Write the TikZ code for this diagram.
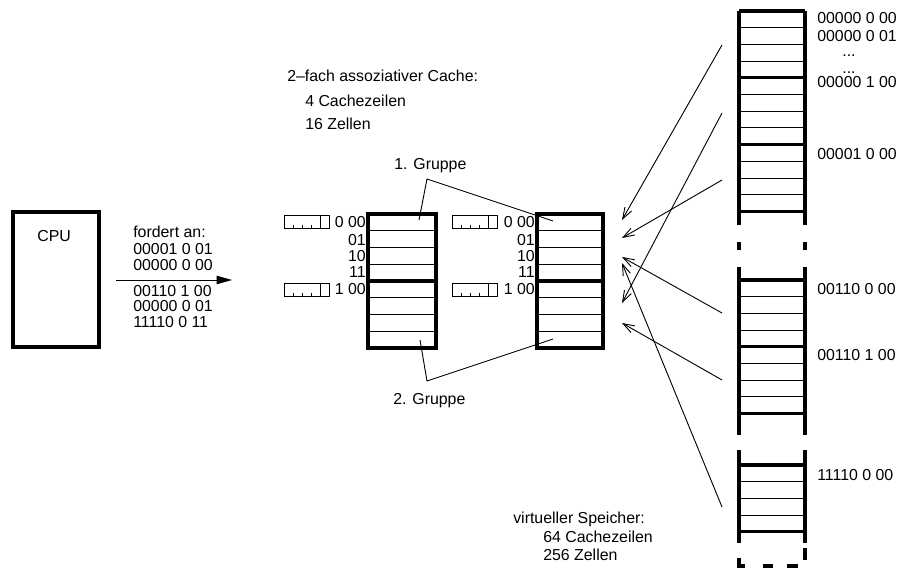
\documentclass[tikz,border=0pt]{standalone}
\usepackage{fontspec}
\setmainfont{Liberation Sans}
\usetikzlibrary{arrows.meta}

\tikzset{
  frame/.style={line width=2.4pt},
  rowline/.style={line width=0.6pt},
  lbl/.style={inner sep=0pt, anchor=base west, font=\fontsize{11.3}{13}\selectfont},
  lblr/.style={lbl, anchor=base east},
  ptr/.style={-{Straight Barb[length=8pt,width=5.5pt]}, line width=0.65pt},
  grpline/.style={line width=0.65pt},
}

\begin{document}
\begin{tikzpicture}[x=0.025cm, y=-0.025cm]
  \useasboundingbox (0,0) rectangle (901,570);

  % CPU and requests
  \draw[frame] (13,212) rectangle (99,347);
  \node[lbl] (cpu) at (37,242) {CPU};
  \node[lbl] (req) at (133,238) {fordert an:};
  \node[lbl] (r1) at (133,255) {00001 0 01};
  \node[lbl] (r2) at (133,271) {00000 0 00};
  \node[lbl] (r3) at (133,297) {00110 1 00};
  \node[lbl] (r4) at (133,312) {00000 0 01};
  \node[lbl] (r5) at (133,328) {11110 0 11};
  \coordinate (cpuout) at (116,280);
  \coordinate (cachein) at (232,280);
  \draw[-{Triangle[length=11pt,width=6pt]}, line width=0.7pt] (cpuout) -- (cachein);

  % cache description
  \node[lbl] (cdesc) at (287,82) {2--fach assoziativer Cache:};
  \node[lbl] (clines) at (305,107) {4 Cachezeilen};
  \node[lbl] (ccells) at (305,130) {16 Zellen};

  % the two cache groups
  \foreach \xl/\xr in {368/436, 537/603} {
    \foreach \i in {1,2,3,5,6,7}
      \draw[rowline] (\xl,{214+\i*16.75}) -- (\xr,{214+\i*16.75});
    \draw[frame] (\xl,214) rectangle (\xr,348);
    \draw[frame] (\xl,281) -- (\xr,281);
    \foreach \t/\yb in {0 00/228, 01/246, 10/262, 11/278, 1 00/294}
      \node[lblr] at ({\xl-2},\yb) {\t};
  }
  % tag boxes
  \foreach \xt/\yt in {284/215, 284/283, 452/215, 452/283} {
    \draw[rowline] (\xt,\yt) rectangle ({\xt+45},{\yt+13});
    \draw[rowline] ({\xt+36},\yt) -- ({\xt+36},{\yt+13});
    \foreach \k in {9,18,27}
      \draw[rowline] ({\xt+\k},{\yt+13}) -- ({\xt+\k},{\yt+10});
  }

  % groups
  \node[lbl] (g1) at (394,170) {1. Gruppe};
  \node[lbl] (g2) at (393,404) {2. Gruppe};
  \coordinate (g1a) at (427,179);
  \coordinate (g1l) at (419,220);
  \coordinate (g1r) at (553,221);
  \coordinate (g2a) at (427,381);
  \coordinate (g2l) at (420,340);
  \coordinate (g2r) at (553,339);
  \draw[grpline] (g1l) -- (g1a) -- (g1r);
  \draw[grpline] (g2l) -- (g2a) -- (g2r);

  % virtual memory
  \foreach \top/\n in {11/12, 280/8, 465/4} {
    \foreach \i in {1,...,\n}
      \draw[rowline] (739,{\top+\i*16.7}) -- (805,{\top+\i*16.7});
    \foreach \i in {0,4,...,\n}
      \draw[frame] (739,{\top+\i*16.7}) -- (805,{\top+\i*16.7});
  }
  \foreach \ya/\yb in {11/225, 242/250, 267/435, 450/543} {
    \draw[frame] (739,\ya) -- (739,\yb);
    \draw[frame] (805,\ya) -- (805,\yb);
  }
  \draw[frame] (739,558) -- (739,566) -- (745,566);
  \draw[frame] (763,566) -- (773,566);
  \draw[frame] (787,566) -- (798,566);
  \draw[frame] (805,548) -- (805,560);

  \node[lbl] (m00000000) at (817,24) {00000 0 00};
  \node[lbl] (m00000001) at (817,42) {00000 0 01};
  \node[lbl, anchor=base] (dots1) at (849,57) {...};
  \node[lbl, anchor=base] (dots2) at (849,74) {...};
  \node[lbl] (m00000100) at (817,88) {00000 1 00};
  \node[lbl] (m00001000) at (817,160) {00001 0 00};
  \node[lbl] (m00110000) at (817,294) {00110 0 00};
  \node[lbl] (m00110100) at (817,360) {00110 1 00};
  \node[lbl] (m11110000) at (817,480) {11110 0 00};

  \node[lbl] (vdesc) at (513,523) {virtueller Speicher:};
  \node[lbl] (vlines) at (543,542) {64 Cachezeilen};
  \node[lbl] (vcells) at (543,560) {256 Zellen};

  % mapping of the requested lines
  \coordinate (s1) at (722,45);   \coordinate (e1) at (622,220);
  \coordinate (s2) at (722,113);  \coordinate (e2) at (622,303);
  \coordinate (s3) at (722,180);  \coordinate (e3) at (622,238);
  \coordinate (s4) at (722,313);  \coordinate (e4) at (622,257);
  \coordinate (s5) at (722,380);  \coordinate (e5) at (622,323);
  \coordinate (s6) at (722,507);  \coordinate (e6) at (622,263);
  \foreach \k in {1,...,6}
    \draw[ptr] (s\k) -- (e\k);
\end{tikzpicture}
\end{document}
